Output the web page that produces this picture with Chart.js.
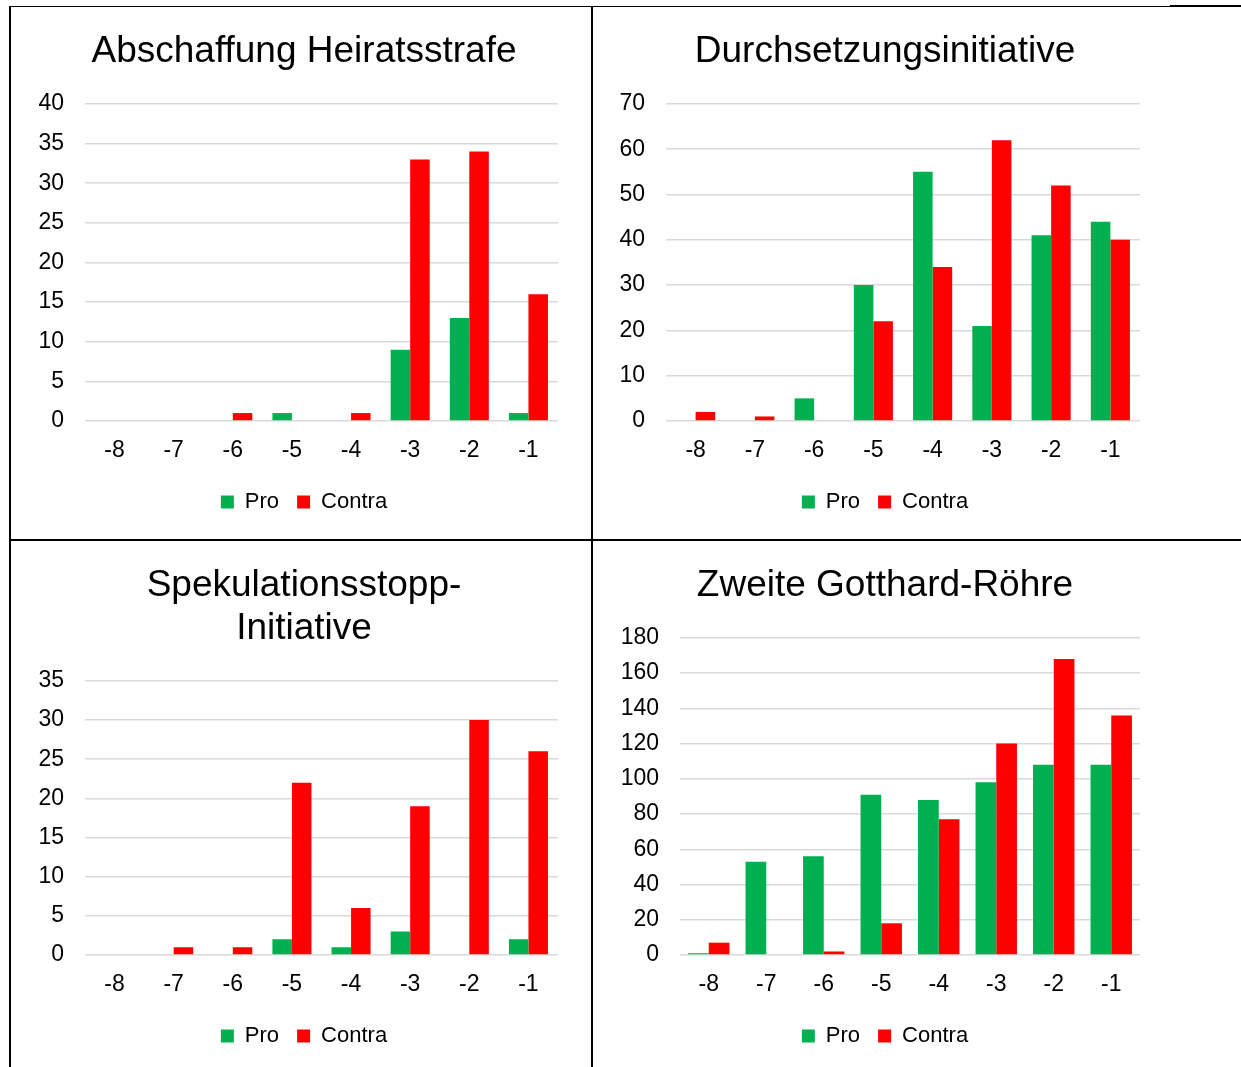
<!DOCTYPE html>
<html>
<head>
<meta charset="utf-8">
<title>Abstimmungen Pro/Contra</title>
<script src="https://cdn.jsdelivr.net/npm/chart.js@4/dist/chart.umd.min.js"></script>
<style>
    body {
        margin: 0;
        width: 1241px;
        height: 1067px;
        position: relative;
        overflow: hidden;
        background: #fff;
        font-family: "Liberation Sans", Arial, sans-serif;
    }
    canvas { position: absolute; }
    .line { position: absolute; background: #000; z-index: 2; }
</style>
</head>
<body>
<div class="line" style="left:9px;top:6px;width:1161px;height:1px"></div>
<div class="line" style="left:1170px;top:5px;width:71px;height:2px"></div>
<div class="line" style="left:9px;top:539px;width:1232px;height:2px"></div>
<div class="line" style="left:9px;top:6px;width:2px;height:1061px"></div>
<div class="line" style="left:591px;top:6px;width:2px;height:1061px"></div>

<canvas id="chart1" width="580" height="532" style="left:14px;top:7px"></canvas>
<canvas id="chart2" width="580" height="532" style="left:595px;top:7px"></canvas>
<canvas id="chart3" width="580" height="526" style="left:14px;top:541px"></canvas>
<canvas id="chart4" width="580" height="526" style="left:595px;top:541px"></canvas>

<script>
// x categories (tick labels) shared by all four charts
const categories = ['-8', '-7', '-6', '-5', '-4', '-3', '-2', '-1'];
const seriesNames = ['Pro', 'Contra'];

// Abschaffung Heiratsstrafe
const heiratPro = [0, 0, 0, 1, 0, 9, 13, 1];
const heiratContra = [0, 0, 1, 0, 1, 33, 34, 16];

// Durchsetzungsinitiative
const durchPro = [0, 0, 5, 30, 55, 21, 41, 44];
const durchContra = [2, 1, 0, 22, 34, 62, 52, 40];

// Spekulationsstopp-Initiative
const spekPro = [0, 0, 0, 2, 1, 3, 0, 2];
const spekContra = [0, 1, 1, 22, 6, 19, 30, 26];

// Zweite Gotthard-Röhre
const gotthardPro = [1, 53, 56, 91, 88, 98, 108, 108];
const gotthardContra = [7, 0, 2, 18, 77, 120, 168, 136];

const FONT = '"Liberation Sans", Arial, sans-serif';
const GREEN = '#00B050';
const RED = '#FF0000';

// Function to build one of the four bar charts
function makeChart(id, title, pro, contra, yMax, yStep, axisW, rightW, padBottom, catPct) {
    const ctx = document.getElementById(id).getContext('2d');
    return new Chart(ctx, {
        type: 'bar',
        data: {
            labels: categories,
            datasets: [{
                label: seriesNames[0],
                data: pro,
                backgroundColor: GREEN,
                barPercentage: 1,
                categoryPercentage: catPct
            }, {
                label: seriesNames[1],
                data: contra,
                backgroundColor: RED,
                barPercentage: 1,
                categoryPercentage: catPct
            }]
        },
        options: {
            responsive: false,
            animation: false,
            layout: { padding: { left: 0, right: 0, top: 0, bottom: padBottom } },
            scales: {
                x: {
                    grid: { display: false },
                    border: { display: false },
                    ticks: { color: '#000', padding: 8, font: { family: FONT, size: 23 } },
                    afterFit: s => { s.height = 52; }
                },
                y: {
                    min: 0,
                    max: yMax,
                    grid: { color: '#d9d9d9', lineWidth: 1.5, drawTicks: false },
                    border: { display: false },
                    ticks: { stepSize: yStep, color: '#000', padding: 21, font: { family: FONT, size: 23 } },
                    afterFit: s => { s.width = axisW; }
                },
                // empty right axis, only used to keep the plot off the right edge
                yR: {
                    position: 'right',
                    grid: { display: false },
                    border: { display: false },
                    ticks: { display: false },
                    afterFit: s => { s.width = rightW; }
                }
            },
            plugins: {
                title: {
                    display: true,
                    text: title,
                    color: '#000',
                    font: { family: FONT, size: 37, weight: 'normal', lineHeight: 1.16 },
                    padding: { top: 23, bottom: 31 }
                },
                legend: {
                    position: 'bottom',
                    labels: {
                        boxWidth: 13,
                        boxHeight: 13,
                        padding: 18,
                        color: '#000',
                        font: { family: FONT, size: 22 }
                    }
                },
                tooltip: { enabled: false }
            }
        }
    });
}

makeChart('chart1', 'Abschaffung Heiratsstrafe', heiratPro, heiratContra, 40, 5, 71, 36, 16, 0.66);
makeChart('chart2', 'Durchsetzungsinitiative', durchPro, durchContra, 70, 10, 71, 35, 16, 0.66);
makeChart('chart3', ['Spekulationsstopp-', 'Initiative'], spekPro, spekContra, 35, 5, 71, 36, 10, 0.66);
makeChart('chart4', 'Zweite Gotthard-Röhre', gotthardPro, gotthardContra, 180, 20, 85, 35, 10, 0.72);
</script>
</body>
</html>
